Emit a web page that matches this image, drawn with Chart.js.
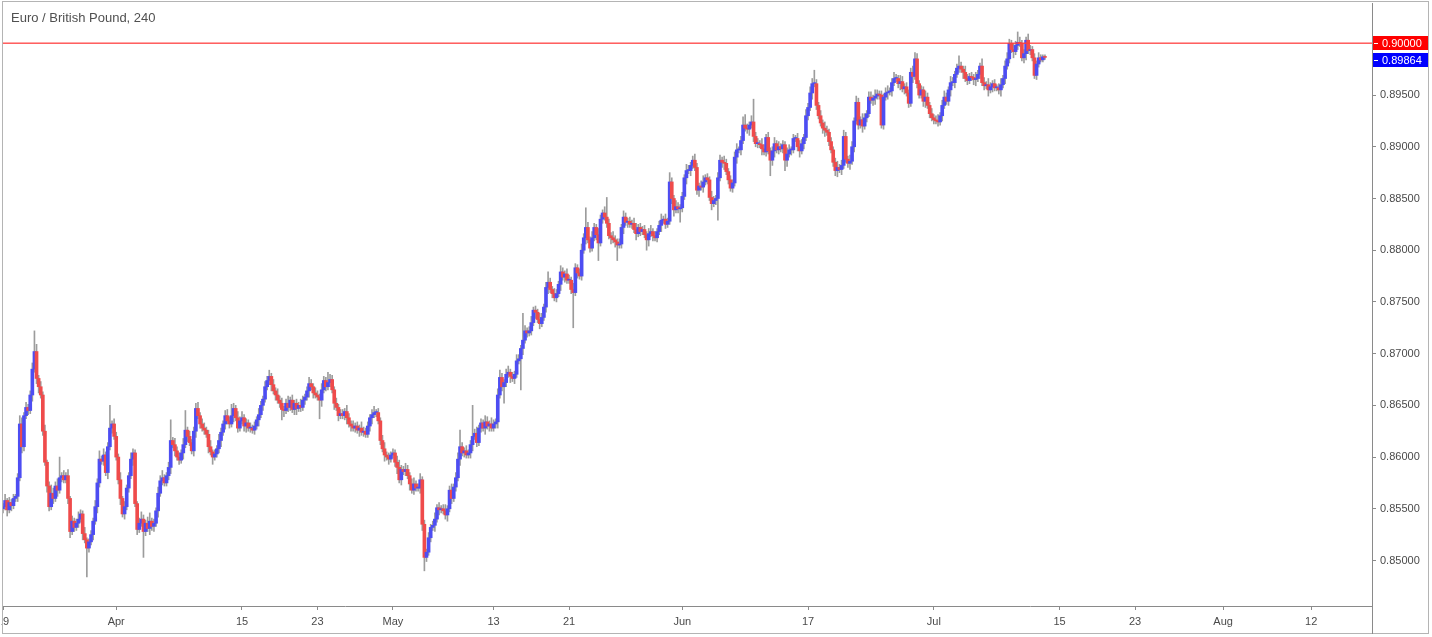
<!DOCTYPE html>
<html>
<head>
<meta charset="utf-8">
<script src="https://cdn.jsdelivr.net/npm/chart.js@4.4.0/dist/chart.umd.min.js"></script>
<style>
  html, body { margin: 0; padding: 0; background: #fff; }
  #wrap { width: 1432px; height: 637px; }
</style>
</head>
<body>
<div id="wrap"><canvas id="chart" width="1432" height="637"></canvas></div>
<script>
  // EUR/GBP 4h candles, 19 Mar - 11 Jul 2019, six candles per trading day
  var title = 'Euro / British Pound, 240';
  var firstOpen = 0.8550;

  // close of each candle (open = previous close)
  var closes = [
    0.8552, 0.8558, 0.8549, 0.8556, 0.8553, 0.8560,
    0.8562, 0.8580, 0.8632, 0.8610, 0.8640, 0.8648,
    0.8645, 0.8660, 0.8685, 0.8702, 0.8676, 0.8668,
    0.8660, 0.8625, 0.8595, 0.8572, 0.8552, 0.8565,
    0.8560, 0.8572, 0.8568, 0.8580, 0.8582, 0.8578,
    0.8582, 0.8560, 0.8528, 0.8538, 0.8532, 0.8536,
    0.8540, 0.8545, 0.8526, 0.8520, 0.8512, 0.8518,
    0.8525, 0.8538, 0.8552, 0.8575, 0.8598, 0.8596,
    0.8602, 0.8585, 0.8610, 0.8628, 0.8632, 0.8620,
    0.8600, 0.8578, 0.8560, 0.8545, 0.8552, 0.8570, // Apr
    0.8582, 0.8598, 0.8604, 0.8555, 0.8530, 0.8536,
    0.8540, 0.8528, 0.8536, 0.8531, 0.8538, 0.8533,
    0.8536, 0.8548, 0.8565, 0.8577, 0.8580, 0.8575,
    0.8582, 0.8590, 0.8616, 0.8612, 0.8606, 0.8600,
    0.8597, 0.8604, 0.8612, 0.8626, 0.8620, 0.8614,
    0.8606, 0.8625, 0.8647, 0.8640, 0.8632, 0.8628,
    0.8626, 0.8622, 0.8610, 0.8605, 0.8600, 0.8603,
    0.8608, 0.8616, 0.8624, 0.8632, 0.8640, 0.8635,
    0.8632, 0.8640, 0.8647, 0.8638, 0.8628, 0.8635,
    0.8638, 0.8630, 0.8633, 0.8628, 0.8628, 0.8626,
    0.8630, 0.8636, 0.8641, 0.8650, 0.8656, 0.8668,
    0.8674, 0.8678, 0.8670, 0.8664, 0.8660, 0.8655,
    0.8652, 0.8646, 0.8645, 0.8652, 0.8648, 0.8655,
    0.8646, 0.8652, 0.8647, 0.8650, 0.8648, 0.8655,
    0.8658, 0.8664, 0.8671, 0.8668, 0.8662, 0.8660,
    0.8658, 0.8655, 0.8665, 0.8674, 0.8668, 0.8672,
    0.8675, 0.8665, 0.8652, 0.8648, 0.8640, 0.8642,
    0.8640, 0.8644, 0.8638, 0.8632, 0.8630, 0.8628,
    0.8630, 0.8626, 0.8628, 0.8624, 0.8625, 0.8622,
    0.8630, 0.8638, 0.8641, 0.8643, 0.8643, 0.8635,
    0.8616, 0.8608, 0.8602, 0.8600, 0.8598, 0.8602,
    0.8604, 0.8595, 0.8590, 0.8578, 0.8588, 0.8586, // May
    0.8588, 0.8582, 0.8574, 0.8568, 0.8574, 0.8570,
    0.8570, 0.8578, 0.8535, 0.8503, 0.8508, 0.8522,
    0.8532, 0.8534, 0.8540, 0.8551, 0.8549, 0.8550,
    0.8548, 0.8544, 0.8550, 0.8568, 0.8560, 0.8571,
    0.8580, 0.8598, 0.8610, 0.8604, 0.8606, 0.8602,
    0.8604, 0.8612, 0.8620, 0.8623, 0.8614, 0.8628,
    0.8633, 0.8628, 0.8634, 0.8630, 0.8632, 0.8628,
    0.8632, 0.8634, 0.8660, 0.8677, 0.8668, 0.8672,
    0.8680, 0.8682, 0.8678, 0.8676, 0.8680, 0.8693,
    0.8695, 0.8705, 0.8713, 0.8722, 0.8720, 0.8722,
    0.8730, 0.8742, 0.8740, 0.8733, 0.8729, 0.8735,
    0.8745, 0.8764, 0.8769, 0.8762, 0.8758, 0.8754,
    0.8758, 0.8767, 0.8779, 0.8774, 0.8777, 0.8771,
    0.8771, 0.8762, 0.8759, 0.8783, 0.8778, 0.8775,
    0.8800, 0.8812, 0.8822, 0.8810, 0.8802, 0.8812,
    0.8822, 0.8815, 0.8807, 0.8830, 0.8836, 0.8832,
    0.8826, 0.8814, 0.8812, 0.8810, 0.8808, 0.8805,
    0.8806, 0.8822, 0.8832, 0.8827, 0.8828, 0.8825,
    0.8826, 0.8820, 0.8816, 0.8822, 0.8818, 0.8820,
    0.8815, 0.8810, 0.8816, 0.8818, 0.8814, 0.8812,
    0.8818, 0.8824, 0.8829, 0.8830, 0.8825, 0.8828,
    0.8866, 0.8850, 0.8839, 0.8842, 0.8840, 0.8841,
    0.8852, 0.8870, 0.8877, 0.8877, 0.8882, 0.8887, // Jun
    0.8880, 0.8858, 0.8862, 0.8861, 0.8866, 0.8870,
    0.8868, 0.8851, 0.8845, 0.8848, 0.8850, 0.8870,
    0.8887, 0.8885, 0.8884, 0.8876, 0.8868, 0.8860,
    0.8865, 0.8890, 0.8897, 0.8897, 0.8906, 0.8921,
    0.8918, 0.8917, 0.8921, 0.8924, 0.8910, 0.8903,
    0.8903, 0.8902, 0.8898, 0.8895, 0.8909, 0.8896,
    0.8887, 0.8896, 0.8903, 0.8897, 0.8900, 0.8898,
    0.8902, 0.8887, 0.8893, 0.8897, 0.8897, 0.8908,
    0.8908, 0.8900, 0.8896, 0.8903, 0.8909, 0.8930,
    0.8938, 0.8952, 0.8961, 0.8961, 0.8940, 0.8930,
    0.8923, 0.8918, 0.8916, 0.8914, 0.8905, 0.8897,
    0.8885, 0.8877, 0.8880, 0.8878, 0.8882, 0.8910,
    0.8888, 0.8884, 0.8886, 0.8900, 0.8925, 0.8943,
    0.8921, 0.8926, 0.8920, 0.8928, 0.8932, 0.8948,
    0.8945, 0.8947, 0.8949, 0.8951, 0.8950, 0.8921,
    0.8948, 0.8952, 0.8953, 0.8954, 0.8962, 0.8966,
    0.8966, 0.8961, 0.8963, 0.8956, 0.8958, 0.8952,
    0.8942, 0.8972, 0.8968, 0.8985, 0.8961, 0.8950,
    0.8955, 0.8944, 0.8948, 0.8940, 0.8932, 0.8928,
    0.8926, 0.8925, 0.8924, 0.8930, 0.8940, 0.8948, // Jul
    0.8944, 0.8955, 0.8962, 0.8962, 0.8970, 0.8976,
    0.8978, 0.8975, 0.8972, 0.8966, 0.8964, 0.8968,
    0.8967, 0.8965, 0.8966, 0.8970, 0.8978, 0.8962,
    0.8959, 0.8960, 0.8955, 0.8958, 0.8961, 0.8957,
    0.8957, 0.8955, 0.8960, 0.8966, 0.8978, 0.8985,
    0.9000, 0.8994, 0.8992, 0.8998, 0.9001, 0.9000,
    0.8986, 0.8990, 0.9003, 0.8993, 0.8994, 0.8986,
    0.8969, 0.8980, 0.8986, 0.8984, 0.8987, 0.89864
  ];

  // wick length above / below the body, in pips
  var wickUp = [
    3, 6, 2, 5, 3, 4,
    2, 4, 8, 6, 3, 5,
    3, 4, 6, 20, 7, 3,
    5, 3, 6, 2, 4, 8,
    5, 4, 7, 20, 3, 5,
    3, 6, 2, 5, 3, 4,
    7, 4, 3, 6, 2, 3,
    4, 3, 6, 4, 8, 3,
    6, 3, 4, 22, 3, 5,
    4, 3, 7, 2, 5, 3,
    3, 6, 4, 3, 2, 5,
    7, 4, 3, 6, 8, 3,
    4, 3, 6, 5, 7, 3,
    3, 5, 20, 3, 6, 4,
    4, 3, 6, 19, 3, 5,
    3, 4, 5, 6, 3, 5,
    5, 3, 4, 6, 2, 4,
    3, 6, 4, 3, 5, 6,
    4, 11, 5, 3, 6, 4,
    6, 3, 4, 3, 5, 3,
    4, 3, 6, 4, 3, 5,
    4, 6, 3, 5, 3, 6,
    4, 5, 3, 4, 7, 3,
    5, 3, 4, 3, 6, 4,
    3, 4, 6, 4, 3, 5,
    4, 3, 6, 4, 3, 10,
    5, 4, 3, 5, 3, 4,
    4, 3, 6, 4, 3, 5,
    3, 4, 3, 6, 4, 3,
    4, 3, 5, 6, 3, 4,
    3, 5, 6, 3, 4, 3,
    4, 3, 6, 7, 4, 3,
    6, 4, 3, 5, 6, 3,
    4, 6, 3, 4, 3, 5,
    3, 4, 6, 3, 5, 3,
    4, 6, 3, 4, 6, 3,
    5, 6, 16, 4, 3, 5,
    3, 4, 30, 4, 6, 3,
    4, 3, 6, 5, 3, 6,
    4, 3, 6, 7, 4, 3,
    5, 6, 3, 4, 3, 6,
    4, 3, 26, 5, 3, 4,
    6, 3, 4, 3, 6, 4,
    3, 5, 10, 4, 3, 5,
    4, 3, 6, 4, 3, 5,
    5, 3, 6, 4, 3, 4,
    6, 4, 19, 5, 3, 6,
    4, 3, 6, 4, 3, 6,
    19, 4, 3, 6, 4, 3,
    5, 3, 6, 4, 3, 4,
    3, 5, 6, 3, 4, 3,
    4, 3, 5, 6, 3, 4,
    3, 4, 6, 3, 5, 3,
    9, 4, 3, 6, 4, 3,
    4, 3, 6, 5, 3, 4,
    6, 4, 3, 5, 6, 3,
    4, 3, 6, 4, 3, 5,
    5, 3, 6, 4, 3, 4,
    3, 5, 6, 3, 4, 8,
    10, 4, 3, 6, 22, 4,
    5, 3, 6, 4, 3, 5,
    3, 4, 6, 3, 5, 3,
    4, 3, 6, 5, 3, 4,
    3, 5, 6, 4, 3, 6,
    4, 6, 5, 13, 4, 3,
    5, 3, 6, 4, 3, 4,
    3, 4, 6, 3, 5, 6,
    4, 3, 6, 5, 3, 6,
    4, 3, 6, 4, 3, 5,
    5, 3, 6, 4, 3, 4,
    3, 5, 6, 3, 4, 6,
    4, 3, 6, 5, 3, 4,
    3, 4, 6, 6, 5, 3,
    4, 3, 6, 4, 3, 5,
    3, 4, 6, 3, 5, 6,
    4, 3, 6, 5, 3, 4,
    10, 4, 3, 6, 4, 3,
    4, 3, 6, 4, 3, 7,
    5, 3, 6, 4, 3, 4,
    3, 4, 6, 3, 5, 6,
    4, 3, 6, 4, 10, 5,
    3, 4, 3, 6, 4, 3,
    4, 3, 5, 3, 2, 2
  ];

  var wickDown = [
    4, 3, 6, 3, 5, 3,
    3, 5, 3, 6, 4, 3,
    4, 3, 6, 3, 5, 6,
    3, 4, 3, 6, 4, 3,
    5, 3, 6, 3, 4, 3,
    3, 5, 6, 3, 4, 3,
    4, 3, 6, 3, 28, 4,
    3, 5, 3, 6, 4, 3,
    4, 3, 6, 3, 5, 3,
    3, 4, 6, 3, 5, 3,
    4, 3, 6, 3, 5, 3,
    3, 25, 4, 3, 6, 4,
    5, 3, 6, 3, 4, 3,
    3, 4, 6, 3, 5, 3,
    4, 3, 6, 3, 5, 3,
    3, 5, 6, 3, 4, 3,
    4, 3, 6, 3, 7, 3,
    3, 4, 6, 3, 5, 3,
    4, 3, 6, 3, 4, 3,
    3, 5, 6, 3, 4, 3,
    4, 3, 6, 3, 5, 3,
    3, 4, 6, 3, 5, 3,
    4, 10, 6, 3, 4, 3,
    3, 5, 6, 3, 4, 3,
    4, 3, 6, 3, 5, 3,
    3, 18, 6, 3, 4, 3,
    4, 3, 6, 3, 5, 3,
    3, 4, 6, 3, 5, 3,
    4, 3, 6, 3, 4, 3,
    3, 5, 6, 3, 4, 3,
    4, 3, 6, 3, 5, 3,
    3, 4, 6, 3, 5, 3,
    4, 3, 6, 3, 4, 3,
    3, 5, 6, 13, 4, 3,
    4, 3, 6, 3, 5, 3,
    3, 4, 6, 3, 5, 3,
    4, 3, 6, 3, 4, 3,
    3, 5, 6, 3, 4, 3,
    4, 3, 6, 3, 5, 3,
    3, 4, 6, 3, 4, 16,
    4, 3, 6, 3, 5, 3,
    3, 30, 6, 3, 4, 3,
    4, 3, 6, 3, 5, 3,
    3, 5, 6, 3, 4, 3,
    4, 3, 6, 3, 5, 3,
    3, 4, 34, 3, 5, 3,
    4, 3, 6, 3, 4, 3,
    3, 5, 17, 3, 4, 3,
    4, 3, 6, 3, 5, 15,
    3, 4, 6, 3, 5, 3,
    4, 3, 6, 3, 4, 3,
    3, 10, 6, 3, 5, 3,
    4, 3, 6, 3, 4, 3,
    3, 5, 6, 3, 4, 13,
    4, 3, 6, 3, 5, 3,
    3, 4, 6, 3, 5, 3,
    4, 3, 6, 3, 4, 21,
    3, 5, 6, 3, 4, 3,
    4, 3, 6, 3, 5, 3,
    3, 4, 6, 3, 5, 3,
    4, 3, 6, 3, 4, 3,
    15, 5, 6, 3, 4, 3,
    4, 10, 6, 3, 5, 3,
    3, 4, 6, 3, 5, 3,
    4, 3, 6, 3, 4, 3,
    3, 5, 6, 3, 4, 3,
    4, 5, 6, 3, 5, 3,
    3, 4, 6, 3, 5, 3,
    4, 3, 6, 3, 4, 3,
    3, 5, 6, 3, 4, 3,
    4, 3, 6, 3, 5, 3,
    3, 4, 6, 3, 5, 3,
    4, 3, 6, 3, 4, 3,
    3, 5, 6, 3, 4, 3,
    4, 3, 4, 3, 5, 3,
    3, 4, 6, 3, 5, 3,
    4, 3, 6, 3, 4, 3,
    3, 5, 6, 3, 4, 3,
    4, 3, 6, 3, 5, 3,
    3, 4, 6, 3, 5, 3,
    4, 3, 6, 3, 4, 3,
    3, 5, 6, 3, 4, 3,
    3, 4, 3, 2, 2, 2
  ];

  var startDate = '2019-03-19';
  var tradingDays = 109; // visible range, including the empty space on the right
  var tickDates = ['2019-03-19', '2019-04-01', '2019-04-15', '2019-04-23', '2019-05-01', '2019-05-13', '2019-05-21',
                   '2019-06-03', '2019-06-17', '2019-07-01', '2019-07-15', '2019-07-23', '2019-08-01', '2019-08-12'];
  var tickTexts = ['19', 'Apr', '15', '23', 'May', '13', '21', 'Jun', '17', 'Jul', '15', '23', 'Aug', '12'];
  var priceTicks = [0.850, 0.855, 0.860, 0.865, 0.870, 0.875, 0.880, 0.885, 0.890, 0.895, 0.900];
  var levelPrice = 0.9;
  var lastPrice = 0.89864;

  var axisFont = { family: '"Liberation Sans", Arial, sans-serif', size: 11 };

  // one category per 4h slot, weekends skipped
  var slots = [];
  var day = new Date(startDate + 'T00:00:00Z');
  var n = 0;
  while (n < tradingDays) {
    var wd = day.getUTCDay();
    if (wd !== 0 && wd !== 6) {
      var ds = day.toISOString().slice(0, 10);
      for (var h = 0; h < 24; h += 4) slots.push(ds + ' ' + (h < 10 ? '0' : '') + h + ':00');
      n++;
    }
    day.setUTCDate(day.getUTCDate() + 1);
  }

  var tickAt = {};
  tickDates.forEach(function (td, k) {
    tickAt[slots.indexOf(td + ' 00:00')] = tickTexts[k];
  });

  // candles as floating bars: body [open, close], wick [low, high]
  var bodies = [], wicks = [], colors = [];
  var prev = firstOpen;
  closes.forEach(function (c, i) {
    var o = prev;
    bodies.push([o, c]);
    wicks.push([Math.min(o, c) - wickDown[i] / 10000, Math.max(o, c) + wickUp[i] / 10000]);
    colors.push(c >= o ? '#4d4df2' : '#ef4b4b');
    prev = c;
  });

  var extras = {
    id: 'extras',
    afterDraw: function (chart) {
      var ctx = chart.ctx, a = chart.chartArea, ys = chart.scales.y;
      ctx.save();

      // horizontal level at 0.90000
      var ly = ys.getPixelForValue(levelPrice);
      ctx.fillStyle = 'rgba(255, 60, 60, 0.9)';
      ctx.fillRect(a.left, Math.round(ly) - 0.5, a.right - a.left, 1.4);

      // frame (also trims the half-cut first date label)
      ctx.fillStyle = '#ffffff';
      ctx.fillRect(0, 0, 1.5, 637);
      ctx.fillRect(0, 634, 1432, 3);
      ctx.strokeStyle = '#b4b4b4';
      ctx.lineWidth = 1;
      ctx.strokeRect(2.5, 1.5, 1426, 632);
      ctx.strokeStyle = '#8a8a8a';
      ctx.beginPath();
      ctx.moveTo(a.right + 0.5, a.bottom);
      ctx.lineTo(a.right + 0.5, 634);
      ctx.stroke();

      // title
      ctx.fillStyle = '#505050';
      ctx.font = '13px "Liberation Sans", Arial, sans-serif';
      ctx.textBaseline = 'middle';
      ctx.fillText(title, 11, 18);

      // price labels on the axis
      var blueY = Math.max(ys.getPixelForValue(lastPrice), ly + 17);
      function tag(yc, bg, txt) {
        ctx.fillStyle = bg;
        ctx.fillRect(a.right + 1, Math.round(yc - 7), 55, 14);
        ctx.fillStyle = '#ffffff';
        ctx.fillRect(a.right + 2, Math.round(yc), 4, 1);
        ctx.font = '11px "Liberation Sans", Arial, sans-serif';
        ctx.fillText(txt, a.right + 10, yc + 0.5);
      }
      tag(ly, '#ff0000', levelPrice.toFixed(5));
      tag(blueY, '#0000ff', lastPrice.toFixed(5));
      ctx.restore();
    }
  };

  new Chart(document.getElementById('chart'), {
    type: 'bar',
    data: {
      labels: slots,
      datasets: [
        { data: bodies, backgroundColor: colors, barThickness: 3, grouped: false, order: 0, minBarLength: 1, borderWidth: 0 },
        { data: wicks, backgroundColor: '#9c9c9c', barThickness: 1, grouped: false, order: 1, borderWidth: 0 }
      ]
    },
    options: {
      responsive: false,
      animation: false,
      devicePixelRatio: 1,
      layout: { padding: { left: 3, top: 3, right: 4, bottom: 3 } },
      plugins: { legend: { display: false }, tooltip: { enabled: false } },
      scales: {
        x: {
          type: 'category',
          offset: false,
          afterBuildTicks: function (s) {
            s.ticks = Object.keys(tickAt).map(function (k) { return { value: +k }; });
          },
          afterFit: function (s) { s.height = 28; s.paddingLeft = 0; s.paddingRight = 0; },
          grid: { offset: false, drawOnChartArea: false, drawTicks: true, tickLength: 4, color: '#8a8a8a' },
          border: { color: '#8a8a8a' },
          ticks: {
            autoSkip: false, maxRotation: 0, padding: 5, color: '#4a4a4a', font: axisFont,
            callback: function (v) { return tickAt[v]; }
          }
        },
        y: {
          position: 'right',
          min: 0.8456,
          max: 0.9039,
          afterBuildTicks: function (s) {
            s.ticks = priceTicks.map(function (v) { return { value: v }; });
          },
          afterFit: function (s) { s.width = 56; s.paddingTop = 0; s.paddingBottom = 0; },
          grid: { drawOnChartArea: false, tickLength: 4, color: '#8a8a8a' },
          border: { color: '#8a8a8a' },
          ticks: {
            padding: 4, color: '#4a4a4a', font: axisFont,
            callback: function (v) { return v.toFixed(5); }
          }
        }
      }
    },
    plugins: [extras]
  });
</script>
</body>
</html>
